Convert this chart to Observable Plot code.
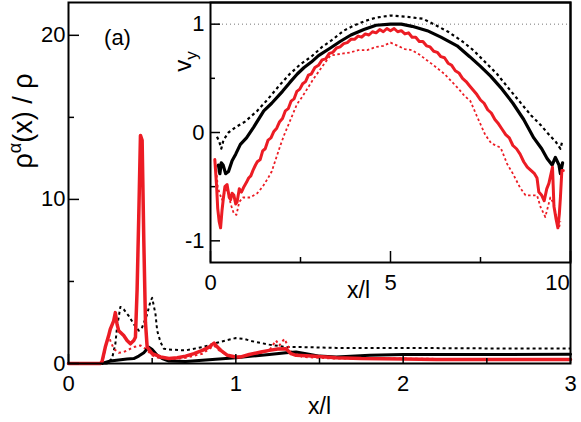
<!DOCTYPE html>
<html><head><meta charset="utf-8">
<script src="https://cdn.jsdelivr.net/npm/d3@7"></script>
<script src="https://cdn.jsdelivr.net/npm/@observablehq/plot@0.6"></script>
<style>
body{margin:0;background:#fff;}
#wrap{position:relative;width:581px;height:422px;overflow:hidden;}
#wrap svg{position:absolute;top:0;}
</style></head><body><div id="wrap"></div>
<script>
// ---------- main panel data: rho^alpha(x)/rho vs x/l ----------
const mainRedSolid = [[0,0],[0.19,0],[0.2,0.1],[0.22,1.0],[0.24,1.7],[0.25,2.1],[0.27,2.6],[0.28,3.1],[0.29,2.4],[0.3,2.0],[0.33,1.7],[0.35,1.4],[0.37,1.2],[0.39,1.4],[0.4,1.6],[0.41,4.5],[0.42,9],[0.43,13.9],[0.44,13.6],[0.45,7.5],[0.46,2.5],[0.47,1.0],[0.5,0.6],[0.55,0.4],[0.6,0.3],[0.65,0.35],[0.7,0.45],[0.75,0.6],[0.8,0.8],[0.84,1.0],[0.87,1.25],[0.89,1.0],[0.91,0.8],[0.95,0.5],[1.0,0.4],[1.03,0.4],[1.08,0.55],[1.15,0.7],[1.2,0.8],[1.25,0.88],[1.3,0.9],[1.33,0.6],[1.36,0.5],[1.45,0.45],[1.6,0.35],[1.75,0.3],[2.0,0.28],[2.2,0.25],[2.5,0.25],[2.8,0.24],[3.0,0.24]];
const mainRedDotted = [[0,0],[0.2,0],[0.22,0.9],[0.24,1.7],[0.25,1.4],[0.27,0.9],[0.3,0.65],[0.33,0.7],[0.36,0.85],[0.39,1.0],[0.43,1.1],[0.46,0.9],[0.5,0.5],[0.55,0.3],[0.6,0.25],[0.7,0.35],[0.8,0.6],[0.87,1.1],[0.9,0.8],[0.95,0.5],[1.0,0.4],[1.1,0.5],[1.2,0.8],[1.24,1.4],[1.26,1.1],[1.29,1.5],[1.33,0.7],[1.4,0.4],[1.6,0.3],[2.0,0.3],[2.5,0.25],[3.0,0.25]];
const mainBlackSolid = [[0,0],[0.2,0],[0.25,0.15],[0.3,0.22],[0.35,0.27],[0.39,0.3],[0.42,0.45],[0.45,0.65],[0.48,1.0],[0.5,0.85],[0.53,0.5],[0.56,0.3],[0.6,0.15],[0.7,0.12],[0.8,0.2],[0.9,0.28],[1.0,0.35],[1.1,0.45],[1.2,0.55],[1.3,0.65],[1.36,0.7],[1.42,0.6],[1.5,0.45],[1.6,0.4],[1.8,0.5],[2.0,0.55],[2.5,0.55],[3.0,0.56]];
const mainBlackDotted = [[0,0],[0.23,0],[0.26,0.3],[0.28,1.2],[0.29,2.2],[0.31,3.45],[0.33,3.3],[0.36,2.9],[0.39,2.4],[0.42,2.0],[0.44,2.2],[0.47,3.0],[0.49,3.8],[0.5,4.0],[0.52,3.0],[0.53,2.0],[0.55,1.3],[0.57,0.9],[0.6,0.85],[0.7,0.8],[0.8,1.0],[0.9,1.3],[1.0,1.55],[1.05,1.5],[1.1,1.35],[1.2,1.15],[1.3,1.0],[1.4,1.0],[1.6,0.95],[2.0,0.95],[2.5,0.92],[3.0,0.92]];
const mainXMajor = [0, 1, 2, 3];
const mainXMinor = [0.5, 1.5, 2.5];
const mainYMajor = [0, 10, 20];
const mainYMinor = [5, 15];

// ---------- inset data: v_y vs x/l ----------
const insetBlackSolid = [[0.22,-0.3],[0.26,-0.38],[0.3,-0.28],[0.35,-0.3],[0.42,-0.38],[0.5,-0.36],[0.6,-0.26],[0.7,-0.2],[0.83,-0.11],[1.0,-0.05],[1.2,0.05],[1.48,0.2],[1.7,0.27],[2.0,0.38],[2.2,0.46],[2.41,0.54],[2.6,0.6],[2.8,0.65],[3.0,0.71],[3.33,0.78],[3.6,0.84],[3.9,0.9],[4.26,0.95],[4.6,0.99],[5.0,1.0],[5.3,1.0],[5.6,0.98],[6.02,0.94],[6.4,0.88],[6.85,0.8],[7.2,0.7],[7.5,0.61],[7.78,0.52],[8.1,0.4],[8.4,0.27],[8.7,0.12],[8.98,-0.05],[9.2,-0.15],[9.35,-0.24],[9.49,-0.3],[9.58,-0.23],[9.68,-0.3],[9.72,-0.38],[9.78,-0.28]];
const insetBlackDotted = [[0.18,-0.04],[0.24,-0.08],[0.3,-0.15],[0.36,-0.07],[0.5,0.0],[0.7,0.05],[0.96,0.1],[1.3,0.2],[1.6,0.31],[1.9,0.43],[2.2,0.54],[2.5,0.63],[2.8,0.7],[3.1,0.79],[3.4,0.86],[3.7,0.94],[4.0,0.99],[4.3,1.03],[4.6,1.06],[5.0,1.08],[5.4,1.07],[5.9,1.05],[6.2,1.0],[6.6,0.93],[7.0,0.84],[7.3,0.76],[7.6,0.66],[7.96,0.54],[8.3,0.4],[8.6,0.28],[8.9,0.16],[9.17,0.07],[9.35,0.0],[9.49,-0.05],[9.58,-0.08],[9.72,-0.15],[9.78,-0.07]];
const insetRedSolid = [[0.12,-0.25],[0.17,-0.5],[0.2,-0.7],[0.24,-0.82],[0.28,-0.88],[0.32,-0.72],[0.36,-0.6],[0.4,-0.5],[0.46,-0.48],[0.52,-0.6],[0.56,-0.62],[0.6,-0.56],[0.65,-0.58],[0.7,-0.66],[0.74,-0.64],[0.8,-0.52],[0.86,-0.55],[0.93,-0.5],[1.0,-0.46],[1.06,-0.42],[1.12,-0.4],[1.18,-0.35],[1.25,-0.3],[1.3,-0.27],[1.38,-0.25],[1.45,-0.17],[1.52,-0.15],[1.6,-0.07],[1.68,-0.05],[1.76,0.01],[1.84,0.04],[1.92,0.1],[2.0,0.13],[2.08,0.2],[2.16,0.22],[2.24,0.29],[2.32,0.31],[2.4,0.38],[2.48,0.4],[2.56,0.45],[2.64,0.47],[2.72,0.53],[2.8,0.54],[2.9,0.6],[3.0,0.62],[3.1,0.67],[3.2,0.68],[3.3,0.73],[3.4,0.74],[3.5,0.78],[3.6,0.79],[3.7,0.82],[3.8,0.83],[3.9,0.86],[4.0,0.86],[4.1,0.89],[4.2,0.88],[4.3,0.91],[4.4,0.9],[4.5,0.93],[4.6,0.92],[4.7,0.95],[4.8,0.93],[4.9,0.96],[5.0,0.94],[5.1,0.96],[5.2,0.93],[5.3,0.94],[5.4,0.91],[5.5,0.92],[5.6,0.88],[5.7,0.88],[5.8,0.84],[5.9,0.84],[6.0,0.8],[6.1,0.79],[6.2,0.75],[6.3,0.74],[6.4,0.7],[6.5,0.69],[6.6,0.64],[6.7,0.62],[6.8,0.57],[6.9,0.55],[7.0,0.5],[7.1,0.47],[7.2,0.43],[7.3,0.39],[7.4,0.35],[7.5,0.3],[7.6,0.27],[7.7,0.21],[7.8,0.18],[7.9,0.12],[8.0,0.08],[8.1,0.03],[8.2,-0.02],[8.3,-0.05],[8.4,-0.12],[8.5,-0.15],[8.6,-0.2],[8.7,-0.27],[8.8,-0.32],[8.9,-0.35],[9.0,-0.38],[9.07,-0.42],[9.12,-0.55],[9.2,-0.58],[9.27,-0.63],[9.34,-0.52],[9.4,-0.47],[9.46,-0.38],[9.5,-0.32],[9.54,-0.68],[9.6,-0.8],[9.65,-0.88],[9.69,-0.75],[9.72,-0.6],[9.76,-0.35],[9.8,-0.35]];
const insetRedDotted = [[0.15,-0.3],[0.2,-0.5],[0.25,-0.56],[0.32,-0.62],[0.4,-0.55],[0.48,-0.52],[0.56,-0.66],[0.65,-0.75],[0.72,-0.76],[0.8,-0.64],[0.9,-0.6],[1.1,-0.6],[1.3,-0.56],[1.45,-0.5],[1.6,-0.42],[1.7,-0.36],[1.8,-0.26],[1.94,-0.12],[2.05,-0.02],[2.2,0.1],[2.4,0.26],[2.55,0.33],[2.7,0.41],[2.87,0.5],[3.0,0.56],[3.15,0.63],[3.33,0.71],[3.5,0.72],[3.7,0.73],[3.9,0.74],[4.1,0.76],[4.35,0.76],[4.6,0.79],[4.8,0.8],[5.0,0.83],[5.2,0.8],[5.4,0.77],[5.6,0.76],[5.8,0.72],[6.0,0.67],[6.2,0.62],[6.5,0.54],[6.7,0.47],[6.9,0.4],[7.05,0.34],[7.22,0.29],[7.4,0.15],[7.63,-0.02],[7.8,-0.1],[8.06,-0.14],[8.24,-0.29],[8.4,-0.38],[8.6,-0.51],[8.75,-0.58],[9.07,-0.58],[9.17,-0.69],[9.3,-0.78],[9.44,-0.6],[9.54,-0.66],[9.63,-0.82],[9.68,-0.88],[9.72,-0.82]];
const insetXMajor = [0, 5, 10];
const insetXMinor = [2.5, 7.5];
const insetYMajor = [-1, 0, 1];
const insetYMinor = [-0.5, 0.5];

const RED = "#ec1c24";
const FONT = "'Liberation Sans', Arial, Helvetica, sans-serif";
const px = d => d[0], py = d => d[1];
const intFmt = d => String(d);
const TICKFS = 22;

// ---------- main plot ----------
const MW = 581, MH = 422, ML = 68, MR = 11, MT = 2, MB = 59;
const mainSvg = Plot.plot({
  width: MW, height: MH, marginLeft: ML, marginRight: MR, marginTop: MT, marginBottom: MB,
  style: {fontFamily: FONT, fontSize: TICKFS + "px", background: "transparent", color: "black"},
  x: {domain: [0, 3]},
  y: {domain: [0, 22]},
  marks: [
    Plot.line(mainBlackDotted, {x: px, y: py, stroke: "black", strokeWidth: 2, strokeDasharray: "3,3", strokeLinecap: "butt"}),
    Plot.line(mainRedDotted, {x: px, y: py, stroke: RED, strokeWidth: 2, strokeDasharray: "2.5,3", strokeLinecap: "butt"}),
    Plot.line(mainBlackSolid, {x: px, y: py, stroke: "black", strokeWidth: 3}),
    Plot.line(mainRedSolid, {x: px, y: py, stroke: RED, strokeWidth: 3.5}),
    Plot.tickY(mainYMajor, {y: d => d, stroke: "black", strokeWidth: 1.5, insetRight: (MW - ML - MR) - 11}),
    Plot.tickY(mainYMinor, {y: d => d, stroke: "black", strokeWidth: 1.5, insetRight: (MW - ML - MR) - 6}),
    Plot.tickX(mainXMajor, {x: d => d, stroke: "black", strokeWidth: 1.5, insetTop: (MH - MT - MB) - 9}),
    Plot.tickX(mainXMinor, {x: d => d, stroke: "black", strokeWidth: 1.5, insetTop: (MH - MT - MB) - 5}),
    Plot.frame({stroke: "black", strokeWidth: 2}),
    Plot.axisY(mainYMajor, {tickSize: 0, tickPadding: 3, label: null, fontSize: TICKFS, tickFormat: intFmt}),
    Plot.axisX(mainXMajor, {tickSize: 0, tickPadding: 12, label: null, fontSize: TICKFS, tickFormat: intFmt}),
    Plot.text(["x/l"], {frameAnchor: "bottom", textAnchor: "middle", lineAnchor: "middle", dy: 43, fontSize: 23}),
    Plot.text(["(a)"], {frameAnchor: "top-left", textAnchor: "middle", lineAnchor: "middle", dx: 49, dy: 35, fontSize: 22}),
    Plot.text(["ρα(x) / ρ"], {frameAnchor: "left", textAnchor: "middle", lineAnchor: "middle", rotate: -90, dx: -45, dy: -62, fontSize: 27})
  ]
});
mainSvg.style.left = "0px";

// ---------- inset plot ----------
const IW = 421, IH = 305, IL = 50, IR = 11, IT = 2, IB = 43;
const insetSvg = Plot.plot({
  width: IW, height: IH, marginLeft: IL, marginRight: IR, marginTop: IT, marginBottom: IB,
  style: {fontFamily: FONT, fontSize: TICKFS + "px", background: "transparent", color: "black"},
  x: {domain: [0, 10]},
  y: {domain: [-1.2, 1.2]},
  marks: [
    Plot.ruleY([1], {stroke: "#777", strokeWidth: 1, strokeDasharray: "1,3"}),
    Plot.line(insetBlackDotted, {x: px, y: py, stroke: "black", strokeWidth: 2.2, strokeDasharray: "3,3", strokeLinecap: "butt"}),
    Plot.line(insetRedDotted, {x: px, y: py, stroke: RED, strokeWidth: 1.8, strokeDasharray: "2.5,2.5", strokeLinecap: "butt"}),
    Plot.line(insetBlackSolid, {x: px, y: py, stroke: "black", strokeWidth: 3.2}),
    Plot.line(insetRedSolid, {x: px, y: py, stroke: RED, strokeWidth: 3}),
    Plot.tickY(insetYMajor, {y: d => d, stroke: "black", strokeWidth: 1.5, insetRight: (IW - IL - IR) - 10}),
    Plot.tickY(insetYMinor, {y: d => d, stroke: "black", strokeWidth: 1.5, insetRight: (IW - IL - IR) - 5}),
    Plot.tickX(insetXMajor, {x: d => d, stroke: "black", strokeWidth: 1.5, insetTop: (IH - IT - IB) - 11}),
    Plot.tickX(insetXMinor, {x: d => d, stroke: "black", strokeWidth: 1.5, insetTop: (IH - IT - IB) - 5}),
    Plot.frame({stroke: "black", strokeWidth: 2}),
    Plot.axisY(insetYMajor, {tickSize: 0, tickPadding: 6, label: null, fontSize: TICKFS, tickFormat: intFmt}),
    Plot.axisX(insetXMajor.slice(0, 2), {tickSize: 0, tickPadding: 12, label: null, fontSize: TICKFS, tickFormat: intFmt}),
    Plot.axisX(insetXMajor.slice(2), {tickSize: 0, tickPadding: 12, label: null, fontSize: TICKFS, dx: -13, tickFormat: intFmt}),
    Plot.text(["x/l"], {frameAnchor: "bottom", textAnchor: "middle", lineAnchor: "middle", dx: -32, dy: 28, fontSize: 23}),
    Plot.text(["vy"], {frameAnchor: "left", textAnchor: "middle", lineAnchor: "middle", rotate: -90, dx: -27, dy: -71, fontSize: 24})
  ]
});
insetSvg.style.left = "160px";

const wrap = document.getElementById("wrap");
wrap.appendChild(mainSvg);
wrap.appendChild(insetSvg);

// rich text (superscript / subscript) as real text
function richText(svg, placeholder, parts) {
  svg.querySelectorAll("text").forEach(t => {
    if (t.textContent === placeholder) {
      while (t.firstChild) t.removeChild(t.firstChild);
      parts.forEach(p => {
        const ts = document.createElementNS("http://www.w3.org/2000/svg", "tspan");
        ts.textContent = p.text;
        if (p.dy) ts.setAttribute("dy", p.dy);
        if (p.size) ts.setAttribute("font-size", p.size);
        t.appendChild(ts);
      });
    }
  });
}
richText(mainSvg, "ρα(x) / ρ", [{text: "ρ"}, {text: "α", dy: "-11", size: "18px"}, {text: "(x) / ρ", dy: "11"}]);
richText(insetSvg, "vy", [{text: "v"}, {text: "y", dy: "6", size: "17px"}]);
</script>
</body></html>
